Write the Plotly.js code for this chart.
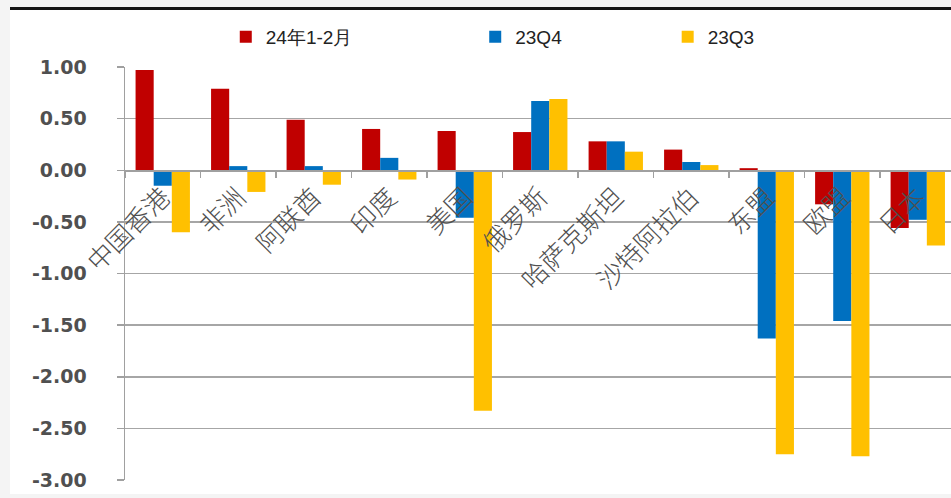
<!DOCTYPE html>
<html>
<head>
<meta charset="utf-8">
<script src="https://cdn.plot.ly/plotly-3.0.1.min.js"></script>
<style>
html,body{margin:0;padding:0;background:#f4f4f4;width:951px;height:498px;overflow:hidden;}
#chart{position:absolute;left:10px;top:7px;width:941px;height:484px;border-top:3px solid #151515;background:#fff;}
</style>
</head>
<body>
<div id="chart"></div>
<script>
const categories = ["中国香港","非洲","阿联酋","印度","美国","俄罗斯","哈萨克斯坦","沙特阿拉伯","东盟","欧盟","日本"];
const seriesNames = ["24年1-2月","23Q4","23Q3"];
const janFeb24 = [0.97, 0.79, 0.49, 0.40, 0.38, 0.37, 0.28, 0.20, 0.02, -0.33, -0.56];
const q4_23 =   [-0.15, 0.04, 0.04, 0.12, -0.46, 0.67, 0.28, 0.08, -1.63, -1.46, -0.48];
const q3_23 =   [-0.60, -0.21, -0.14, -0.09, -2.33, 0.69, 0.18, 0.05, -2.75, -2.77, -0.73];
const yTicks = [1, 0.5, 0, -0.5, -1, -1.5, -2, -2.5, -3];
const yTickText = ["1.00", "0.50", "0.00", "-0.50", "-1.00", "-1.50", "-2.00", "-2.50", "-3.00"];

const colors = ["#C00000", "#0070C0", "#FFC000"];
const values = [janFeb24, q4_23, q3_23];
const legends = ["legend", "legend2", "legend3"];

const traces = values.map((v, i) => ({
  type: "bar",
  name: seriesNames[i],
  x: categories,
  y: v,
  marker: {color: colors[i]},
  legend: legends[i],
  hoverinfo: "x+y+name"
}));

const legendBase = {
  orientation: "h",
  yanchor: "middle",
  xanchor: "left",
  y: 1.073,
  bgcolor: "rgba(0,0,0,0)",
  font: {family: "Liberation Sans, Arial, sans-serif", size: 19, color: "#222"},
  itemwidth: 30
};

const layout = {
  width: 941,
  height: 484,
  margin: {l: 115, r: 0, t: 57, b: 14},
  paper_bgcolor: "#ffffff",
  plot_bgcolor: "#ffffff",
  barmode: "group",
  bargap: 0.28,
  bargroupgap: 0,
  showlegend: true,
  legend: Object.assign({}, legendBase, {x: 0.122}),
  legend2: Object.assign({}, legendBase, {x: 0.424}),
  legend3: Object.assign({}, legendBase, {x: 0.657}),
  xaxis: {
    type: "category",
    range: [-0.5, 10.44],
    anchor: "free",
    position: 0.75,
    showline: true,
    linecolor: "#a0a0a0",
    linewidth: 1.5,
    showgrid: false,
    ticks: "outside",
    tickson: "boundaries",
    ticklen: 6,
    tickcolor: "#a0a0a0",
    tickwidth: 1.5,
    tickangle: -45,
    tickfont: {family: "Noto Sans CJK SC", size: 26, weight: 300, color: "#505050"},
    fixedrange: true
  },
  yaxis: {
    range: [-3, 1],
    tickvals: yTicks,
    ticktext: yTickText,
    showgrid: true,
    gridcolor: "#a6a6a6",
    gridwidth: 1.5,
    zeroline: false,
    showline: true,
    linecolor: "#a0a0a0",
    linewidth: 1.5,
    ticks: "outside",
    ticklen: 7,
    tickcolor: "#a0a0a0",
    tickwidth: 1.5,
    ticklabelstandoff: 26,
    tickfont: {family: "DejaVu Sans", size: 19, weight: "bold", color: "#505050"},
    fixedrange: true
  }
};

Plotly.newPlot("chart", traces, layout, {displayModeBar: false, staticPlot: true});
</script>
</body>
</html>
